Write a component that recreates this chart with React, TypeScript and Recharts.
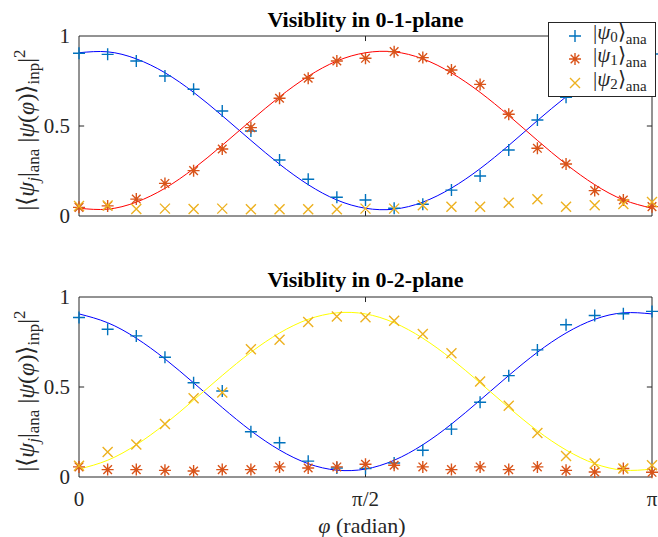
import React from 'react';
import {
  ComposedChart,
  Line,
  Scatter,
  XAxis,
  YAxis,
  ReferenceArea,
  ReferenceLine,
  Legend,
} from 'recharts';

const FONT = '"Liberation Serif", "Times New Roman", serif';
const INK = '#262626';
const BLUE = '#0072BD';
const RED = '#D95319';
const YELLOW = '#EDB120';

// phi in units of pi
const phi = [0, 0.05, 0.1, 0.15, 0.2, 0.25, 0.3, 0.35, 0.4, 0.45, 0.5, 0.55, 0.6, 0.65, 0.7, 0.75, 0.8, 0.85, 0.9, 0.95, 1];
const xTicks = [0, 0.5, 1];
const xTickLabels = ['0', 'π/2', 'π'];
const yTicks = [0, 0.5, 1];

// 0-1 plane, measured
const top0 = [0.904, 0.898, 0.861, 0.778, 0.704, 0.583, 0.472, 0.311, 0.204, 0.104, 0.089, 0.043, 0.065, 0.144, 0.222, 0.367, 0.533, 0.66, 0.77, 0.85, 0.9];
const top1 = [0.048, 0.056, 0.094, 0.181, 0.252, 0.372, 0.491, 0.654, 0.765, 0.861, 0.876, 0.913, 0.88, 0.811, 0.731, 0.565, 0.376, 0.289, 0.141, 0.089, 0.052];
const top2 = [0.055, 0.058, 0.039, 0.041, 0.039, 0.041, 0.037, 0.037, 0.037, 0.037, 0.041, 0.041, 0.06, 0.052, 0.052, 0.074, 0.093, 0.052, 0.06, 0.067, 0.078];
// 0-1 plane, fitted curves
const fitTop0 = [0.907, 0.912, 0.873, 0.796, 0.687, 0.557, 0.42, 0.288, 0.174, 0.089, 0.043, 0.038, 0.077, 0.155, 0.263, 0.392, 0.53, 0.662, 0.776, 0.86, 0.907];
const fitTop1 = [0.043, 0.038, 0.077, 0.154, 0.263, 0.393, 0.53, 0.662, 0.776, 0.861, 0.907, 0.912, 0.873, 0.795, 0.687, 0.558, 0.42, 0.288, 0.174, 0.09, 0.043];

// 0-2 plane, measured
const bot0 = [0.886, 0.821, 0.784, 0.665, 0.524, 0.478, 0.251, 0.19, 0.088, 0.05, 0.047, 0.078, 0.149, 0.266, 0.415, 0.563, 0.706, 0.846, 0.897, 0.907, 0.92];
const bot1 = [0.056, 0.041, 0.041, 0.037, 0.033, 0.041, 0.041, 0.056, 0.05, 0.056, 0.071, 0.065, 0.056, 0.041, 0.056, 0.041, 0.056, 0.037, 0.028, 0.047, 0.026];
const bot2 = [0.062, 0.139, 0.181, 0.294, 0.437, 0.47, 0.71, 0.762, 0.861, 0.892, 0.888, 0.868, 0.795, 0.688, 0.53, 0.396, 0.245, 0.117, 0.075, 0.047, 0.065];
// 0-2 plane, fitted curves
const fitBot0 = [0.906, 0.857, 0.771, 0.656, 0.523, 0.386, 0.257, 0.15, 0.074, 0.038, 0.044, 0.093, 0.179, 0.294, 0.427, 0.564, 0.693, 0.8, 0.876, 0.912, 0.906];
const fitBot2 = [0.044, 0.093, 0.179, 0.294, 0.427, 0.564, 0.693, 0.8, 0.876, 0.912, 0.906, 0.857, 0.771, 0.656, 0.523, 0.386, 0.257, 0.15, 0.074, 0.038, 0.044];

const rowsTop = phi.map((x, i) => ({ phi: x, p0: top0[i], p1: top1[i], p2: top2[i], f0: fitTop0[i], f1: fitTop1[i] }));
const rowsBot = phi.map((x, i) => ({ phi: x, p0: bot0[i], p1: bot1[i], p2: bot2[i], f0: fitBot0[i], f2: fitBot2[i] }));

const plusShape = (p: any) => (
  <path d={`M${p.cx - 6},${p.cy}h12M${p.cx},${p.cy - 6}v12`} stroke={BLUE} strokeWidth={1.4} fill="none" />
);
const starShape = (p: any) => (
  <path
    d={`M${p.cx - 6},${p.cy}h12M${p.cx},${p.cy - 6}v12M${p.cx - 4.3},${p.cy - 4.3}l8.6,8.6M${p.cx - 4.3},${p.cy + 4.3}l8.6,-8.6`}
    stroke={RED}
    strokeWidth={1.4}
    fill="none"
  />
);
const crossShape = (p: any) => (
  <path d={`M${p.cx - 5},${p.cy - 5}l10,10M${p.cx - 5},${p.cy + 5}l10,-10`} stroke={YELLOW} strokeWidth={1.4} fill="none" />
);

const tickStyle = { fontSize: 21, fill: INK, style: { fontFamily: FONT } };

const YLabel = (props: any) => {
  const vb = props.viewBox || { y: 0, height: 0 };
  const cy = vb.y + vb.height / 2 + 4;
  const x = 34;
  return (
    <text x={x} y={cy} transform={`rotate(-90 ${x} ${cy})`} textAnchor="middle" style={{ fontFamily: FONT }} fontSize={24} fill={INK}>
      <tspan>{'|⟨'}</tspan>
      <tspan fontStyle="italic">ψ</tspan>
      <tspan fontStyle="italic" fontSize={17} dy={5}>j</tspan>
      <tspan dy={-5}>|</tspan>
      <tspan fontSize={17} dy={5}>ana</tspan>
      <tspan dy={-5}>{' |'}</tspan>
      <tspan fontStyle="italic">ψ</tspan>
      <tspan>(</tspan>
      <tspan fontStyle="italic">φ</tspan>
      <tspan>{')⟩'}</tspan>
      <tspan fontSize={17} dy={5}>inp</tspan>
      <tspan dy={-5}>|</tspan>
      <tspan fontSize={17} dy={-9}>2</tspan>
    </text>
  );
};

const XLabel = () => (
  <text x={362} y={273} textAnchor="middle" style={{ fontFamily: FONT }} fontSize={22} fill={INK}>
    <tspan fontStyle="italic">φ</tspan>
    <tspan>{' (radian)'}</tspan>
  </text>
);

const legendItems = [
  { idx: '0', color: BLUE, d: 'M1,7h12M7,1v12' },
  { idx: '1', color: RED, d: 'M1,7h12M7,1v12M2.7,2.7l8.6,8.6M2.7,11.3l8.6,-8.6' },
  { idx: '2', color: YELLOW, d: 'M2,2l10,10M2,12l10,-10' },
];

const LegendBox = () => (
  <div
    style={{
      width: 108,
      height: 75,
      boxSizing: 'border-box',
      border: `1px solid ${INK}`,
      background: '#fff',
      fontFamily: FONT,
      fontSize: 21,
      color: INK,
      paddingTop: 1,
    }}
  >
    {legendItems.map((it) => (
      <div key={it.idx} style={{ height: 23.5, display: 'flex', alignItems: 'center', lineHeight: '21px' }}>
        <svg width={14} height={14} style={{ marginLeft: 19, marginRight: 11 }}>
          <path d={it.d} stroke={it.color} strokeWidth={1.4} fill="none" />
        </svg>
        <span style={{ whiteSpace: 'nowrap' }}>
          |<i>ψ</i>
          <sub style={{ fontSize: 15, verticalAlign: '-3px' }}>{it.idx}</sub>⟩
          <sub style={{ fontSize: 15, verticalAlign: '-5px' }}>ana</sub>
        </span>
      </div>
    ))}
  </div>
);

// inward ticks and box drawn through the chart's own scales
const frame = (key: string) => [
  <ReferenceArea key={`${key}-box`} x1={0} x2={1} y1={0} y2={1} fill="none" stroke={INK} strokeWidth={1} ifOverflow="visible" />,
  <ReferenceLine key={`${key}-tb`} segment={[{ x: 0.5, y: 0 }, { x: 0.5, y: 0.028 }]} stroke={INK} />,
  <ReferenceLine key={`${key}-tt`} segment={[{ x: 0.5, y: 1 }, { x: 0.5, y: 0.972 }]} stroke={INK} />,
  <ReferenceLine key={`${key}-tl`} segment={[{ x: 0, y: 0.5 }, { x: 0.009, y: 0.5 }]} stroke={INK} />,
  <ReferenceLine key={`${key}-tr`} segment={[{ x: 1, y: 0.5 }, { x: 0.991, y: 0.5 }]} stroke={INK} />,
];

const titleStyle: React.CSSProperties = {
  position: 'absolute',
  left: 79,
  width: 573,
  textAlign: 'center',
  fontFamily: FONT,
  fontWeight: 'bold',
  fontSize: 22,
  lineHeight: '22px',
  color: '#000',
};

export default function App() {
  return (
    <div style={{ position: 'absolute', left: 0, top: 0, width: 658, height: 537, background: '#fff' }}>
      <div style={{ position: 'absolute', left: 0, top: 0 }}>
        <ComposedChart width={658} height={260} data={rowsTop} margin={{ top: 36, right: 6, bottom: 14, left: 19 }}>
          <XAxis
            type="number"
            dataKey="phi"
            domain={[0, 1]}
            ticks={xTicks}
            tick={false}
            axisLine={false}
            tickLine={false}
            height={30}
          />
          <YAxis
            type="number"
            domain={[0, 1]}
            ticks={yTicks}
            width={60}
            axisLine={false}
            tickLine={false}
            tickMargin={3}
            tick={tickStyle}
            label={{ content: (p: any) => <YLabel {...p} /> }}
          />
          {frame('top')}
          <Scatter data={rowsTop} dataKey="p0" shape={plusShape} isAnimationActive={false} />
          <Scatter data={rowsTop} dataKey="p1" shape={starShape} isAnimationActive={false} />
          <Scatter data={rowsTop} dataKey="p2" shape={crossShape} isAnimationActive={false} />
          <Line dataKey="f0" type="natural" stroke="#0000FF" strokeWidth={1} dot={false} isAnimationActive={false} />
          <Line dataKey="f1" type="natural" stroke="#FF0000" strokeWidth={1} dot={false} isAnimationActive={false} />
          <Legend
            layout="horizontal"
            verticalAlign="middle"
            align="center"
            wrapperStyle={{ left: 548, top: 22, width: 108, height: 75 }}
            content={() => <LegendBox />}
          />
        </ComposedChart>
      </div>
      <div style={{ ...titleStyle, top: 9 }}>Visiblity in 0-1-plane</div>

      <div style={{ position: 'absolute', left: 0, top: 260 }}>
        <ComposedChart width={658} height={277} data={rowsBot} margin={{ top: 37, right: 6, bottom: 30, left: 19 }}>
          <XAxis
            type="number"
            dataKey="phi"
            domain={[0, 1]}
            ticks={xTicks}
            tickFormatter={(v: number) => xTickLabels[xTicks.indexOf(v)]}
            axisLine={false}
            tickLine={false}
            tickMargin={8}
            tick={tickStyle}
            height={30}
            label={{ content: () => <XLabel /> }}
          />
          <YAxis
            type="number"
            domain={[0, 1]}
            ticks={yTicks}
            width={60}
            axisLine={false}
            tickLine={false}
            tickMargin={3}
            tick={tickStyle}
            label={{ content: (p: any) => <YLabel {...p} /> }}
          />
          {frame('bot')}
          <Scatter data={rowsBot} dataKey="p0" shape={plusShape} isAnimationActive={false} />
          <Scatter data={rowsBot} dataKey="p1" shape={starShape} isAnimationActive={false} />
          <Scatter data={rowsBot} dataKey="p2" shape={crossShape} isAnimationActive={false} />
          <Line dataKey="f0" type="natural" stroke="#0000FF" strokeWidth={1} dot={false} isAnimationActive={false} />
          <Line dataKey="f2" type="natural" stroke="#FFFF00" strokeWidth={1} dot={false} isAnimationActive={false} />
        </ComposedChart>
      </div>
      <div style={{ ...titleStyle, top: 269 }}>Visiblity in 0-2-plane</div>
    </div>
  );
}
